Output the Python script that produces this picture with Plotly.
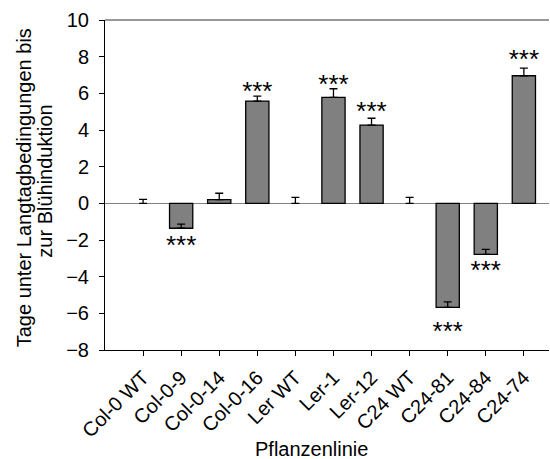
import plotly.graph_objects as go

# Flowering-time shift per plant line (days under long-day conditions)
lines = ["Col-0 WT", "Col-0-9", "Col-0-14", "Col-0-16", "Ler WT", "Ler-1",
         "Ler-12", "C24 WT", "C24-81", "C24-84", "C24-74"]
means = [0.0, -1.36, 0.2, 5.58, 0.0, 5.78, 4.27, 0.0, -5.67, -2.78, 6.96]
errors = [0.22, 0.23, 0.35, 0.27, 0.33, 0.47, 0.37, 0.33, 0.29, 0.27, 0.42]
signif = ["", "***", "", "***", "", "***", "***", "", "***", "***", "***"]
star_y = [None, -2.4, None, 6.0, None, 6.4, 4.9, None, -7.1, -3.75, 7.75]
y_ticks = [-8, -6, -4, -2, 0, 2, 4, 6, 8, 10]

FONT = "Liberation Sans, Arial, sans-serif"
xpos = list(range(len(lines)))
outline = [0 if m == 0 else 1.3 for m in means]

fig = go.Figure()
fig.add_trace(go.Bar(
    x=xpos, y=means, width=0.61,
    marker=dict(color="#808080", line=dict(color="#000000", width=outline)),
    error_y=dict(type="data", symmetric=False, array=errors,
                 arrayminus=[0] * len(errors), color="#000000",
                 thickness=1.3, width=4),
    showlegend=False,
))

sx = [x for x, s in zip(xpos, signif) if s]
sy = [y for y, s in zip(star_y, signif) if s]
st = [s for s in signif if s]
fig.add_trace(go.Scatter(
    x=sx, y=sy, text=st, mode="text", textposition="middle center",
    textfont=dict(family=FONT, size=26, color="#000000"),
    showlegend=False, hoverinfo="skip",
))

fig.update_layout(
    width=550, height=459,
    margin=dict(l=105, r=1, t=20, b=109),
    paper_bgcolor="white", plot_bgcolor="white",
    font=dict(family=FONT, size=20, color="#000000"),
    xaxis=dict(
        range=[-1, 10.66], tickmode="array", tickvals=xpos, ticktext=lines,
        tickangle=-45, ticks="outside", ticklen=5, tickwidth=1,
        tickcolor="#000000", showline=True, linecolor="#000000",
        linewidth=1, mirror=False, showgrid=False, zeroline=False,
        tickfont=dict(family=FONT, size=20), ticklabelstandoff=2,
    ),
    yaxis=dict(
        range=[-8, 10], tickmode="array", tickvals=y_ticks,
        ticks="outside", ticklen=5, tickwidth=1, tickcolor="#000000",
        showline=True, linecolor="#000000", linewidth=1, mirror=False,
        showgrid=False, zeroline=True, zerolinecolor="#808080",
        zerolinewidth=1.2, tickfont=dict(family=FONT, size=20),
        ticklabelstandoff=6,
    ),
    shapes=[dict(type="line", xref="paper", yref="paper", x0=0, x1=1,
                 y0=1, y1=1, line=dict(color="#333333", width=1))],
    annotations=[
        dict(text="Tage unter Langtagbedingungen bis",
             xref="paper", yref="paper", x=(24 - 105) / 444, y=0.49,
             textangle=-90, xanchor="center", yanchor="middle",
             showarrow=False, font=dict(family=FONT, size=20)),
        dict(text="zur Blühinduktion",
             xref="paper", yref="paper", x=(45 - 105) / 444, y=0.51,
             textangle=-90, xanchor="center", yanchor="middle",
             showarrow=False, font=dict(family=FONT, size=20)),
        dict(text="Pflanzenlinie", xref="paper", yref="paper",
             x=0.466, y=-0.3, xanchor="center", yanchor="middle",
             showarrow=False, font=dict(family=FONT, size=20)),
    ],
)

fig.write_html("out.html")
